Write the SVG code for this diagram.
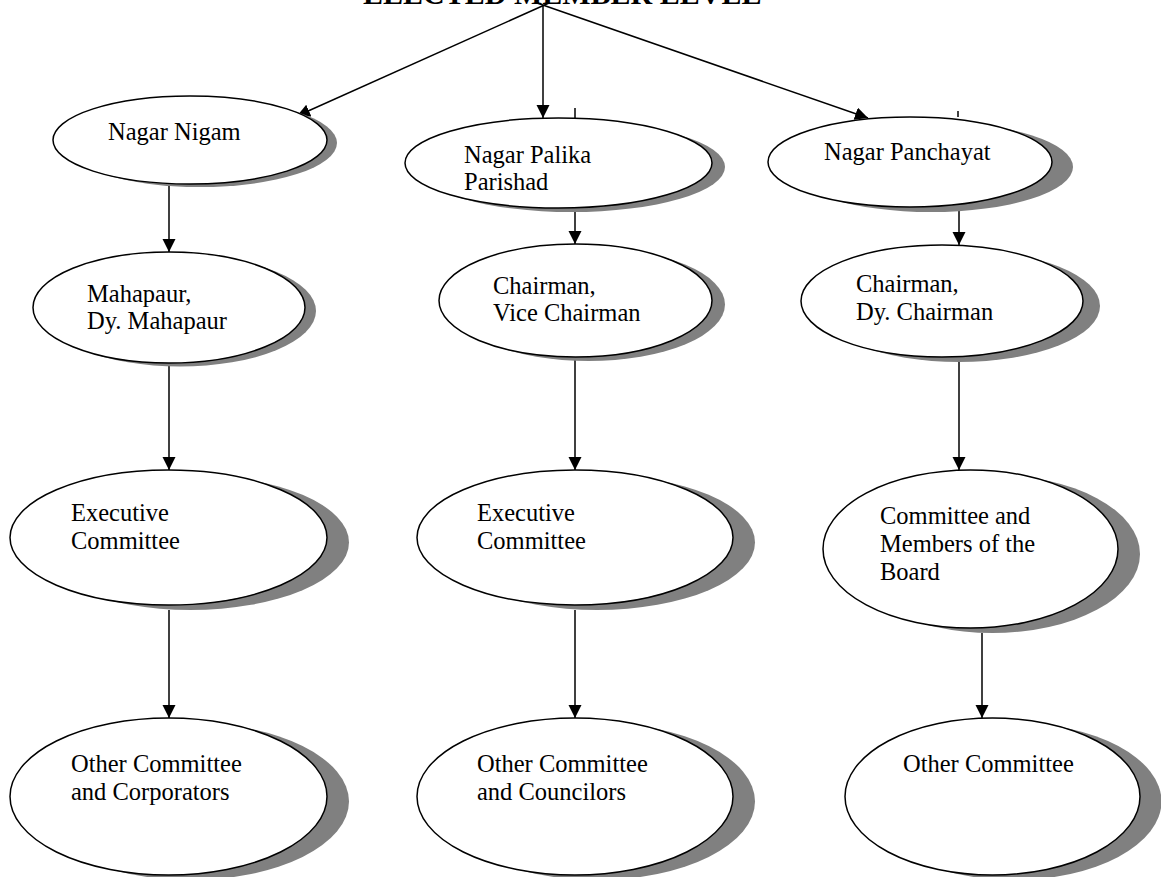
<svg xmlns="http://www.w3.org/2000/svg" width="1161" height="877" viewBox="0 0 1161 877">
<style>
.bg{fill:#ffffff}
.shadow{fill:#808080;stroke:none}
.node{fill:#ffffff;stroke:#000000;stroke-width:1.5}
.lbl{font-family:"Liberation Serif","Times New Roman",serif;font-size:24.5px;fill:#000000}
.title{font-family:"Liberation Serif","Times New Roman",serif;font-size:30px;font-weight:bold;fill:#000000}
.edge{stroke:#000000;stroke-width:1.5;fill:none}
.tick{stroke:#000000;stroke-width:1.5;fill:none}
</style>
<defs>
<marker id="arr" markerUnits="userSpaceOnUse" markerWidth="14" markerHeight="14" refX="13" refY="6.5" orient="auto">
<path d="M0,0 L13,6.5 L0,13 Z" fill="#000000"/>
</marker>
</defs>
<rect class="bg" x="0" y="0" width="1161" height="877"/>
<text class="title" x="363" y="4">ELECTED MEMBER LEVEL</text>

<g id="connectors">
<line class="edge" x1="549" y1="3" x2="297" y2="116" marker-end="url(#arr)"/>
<line class="edge" x1="543" y1="5" x2="543" y2="118" marker-end="url(#arr)"/>
<line class="edge" x1="537" y1="3" x2="868" y2="118" marker-end="url(#arr)"/>
<line class="tick" x1="575" y1="108" x2="575" y2="118"/>
<line class="tick" x1="958" y1="111" x2="958" y2="117"/>
<line class="edge" x1="169" y1="186" x2="169" y2="252" marker-end="url(#arr)"/>
<line class="edge" x1="169" y1="366" x2="169" y2="470" marker-end="url(#arr)"/>
<line class="edge" x1="169" y1="610" x2="169" y2="718" marker-end="url(#arr)"/>
<line class="edge" x1="575" y1="210" x2="575" y2="244" marker-end="url(#arr)"/>
<line class="edge" x1="575" y1="360" x2="575" y2="470" marker-end="url(#arr)"/>
<line class="edge" x1="575" y1="610" x2="575" y2="718" marker-end="url(#arr)"/>
<line class="edge" x1="959" y1="210" x2="959" y2="245" marker-end="url(#arr)"/>
<line class="edge" x1="959" y1="360" x2="959" y2="470" marker-end="url(#arr)"/>
<line class="edge" x1="982" y1="633" x2="982" y2="718" marker-end="url(#arr)"/>
</g>

<g id="nagar-nigam">
<ellipse class="shadow" cx="200" cy="143" rx="137" ry="44"/>
<ellipse class="node" cx="190" cy="140" rx="137" ry="44"/>
<text class="lbl" x="108" y="140">Nagar Nigam</text>
</g>
<g id="mahapaur">
<ellipse class="shadow" cx="180" cy="311" rx="136" ry="55.5"/>
<ellipse class="node" cx="169" cy="307.5" rx="136" ry="55.5"/>
<text class="lbl" x="87" y="302">Mahapaur,</text>
<text class="lbl" x="87" y="329">Dy. Mahapaur</text>
</g>
<g id="exec-committee-1">
<ellipse class="shadow" cx="190.5" cy="542.5" rx="158.5" ry="67.5"/>
<ellipse class="node" cx="168.5" cy="537.5" rx="158.5" ry="67.5"/>
<text class="lbl" x="71" y="521">Executive</text>
<text class="lbl" x="71" y="549">Committee</text>
</g>
<g id="other-committee-1">
<ellipse class="shadow" cx="190.5" cy="801.5" rx="158.5" ry="78.5"/>
<ellipse class="node" cx="168.5" cy="796.5" rx="158.5" ry="78.5"/>
<text class="lbl" x="71" y="772">Other Committee</text>
<text class="lbl" x="71" y="800">and Corporators</text>
</g>

<g id="nagar-palika">
<ellipse class="shadow" cx="571.5" cy="167" rx="153.5" ry="45"/>
<ellipse class="node" cx="558.5" cy="163" rx="153.5" ry="45"/>
<text class="lbl" x="464" y="163">Nagar Palika</text>
<text class="lbl" x="464" y="190">Parishad</text>
</g>
<g id="chairman-vice">
<ellipse class="shadow" cx="588.5" cy="304.5" rx="136.5" ry="56.5"/>
<ellipse class="node" cx="575.5" cy="300.5" rx="136.5" ry="56.5"/>
<text class="lbl" x="493" y="294">Chairman,</text>
<text class="lbl" x="493" y="321">Vice Chairman</text>
</g>
<g id="exec-committee-2">
<ellipse class="shadow" cx="597" cy="542.5" rx="158" ry="67.5"/>
<ellipse class="node" cx="575" cy="537.5" rx="158" ry="67.5"/>
<text class="lbl" x="477" y="521">Executive</text>
<text class="lbl" x="477" y="549">Committee</text>
</g>
<g id="other-committee-2">
<ellipse class="shadow" cx="597" cy="801.5" rx="158" ry="78.5"/>
<ellipse class="node" cx="575" cy="796.5" rx="158" ry="78.5"/>
<text class="lbl" x="477" y="772">Other Committee</text>
<text class="lbl" x="477" y="800">and Councilors</text>
</g>

<g id="nagar-panchayat">
<ellipse class="shadow" cx="931" cy="167" rx="142" ry="45"/>
<ellipse class="node" cx="910" cy="162" rx="142" ry="45"/>
<text class="lbl" x="824" y="160">Nagar Panchayat</text>
</g>
<g id="chairman-dy">
<ellipse class="shadow" cx="959" cy="306" rx="141" ry="56"/>
<ellipse class="node" cx="942" cy="301" rx="141" ry="56"/>
<text class="lbl" x="856" y="292">Chairman,</text>
<text class="lbl" x="856" y="320">Dy. Chairman</text>
</g>
<g id="committee-members">
<ellipse class="shadow" cx="992.5" cy="554" rx="147.5" ry="79"/>
<ellipse class="node" cx="970.5" cy="549" rx="147.5" ry="79"/>
<text class="lbl" x="880" y="524">Committee and</text>
<text class="lbl" x="880" y="552">Members of the</text>
<text class="lbl" x="880" y="580">Board</text>
</g>
<g id="other-committee-3">
<ellipse class="shadow" cx="1014" cy="801.5" rx="147.5" ry="78.5"/>
<ellipse class="node" cx="992.5" cy="796.5" rx="147.5" ry="78.5"/>
<text class="lbl" x="903" y="772">Other Committee</text>
</g>
</svg>
